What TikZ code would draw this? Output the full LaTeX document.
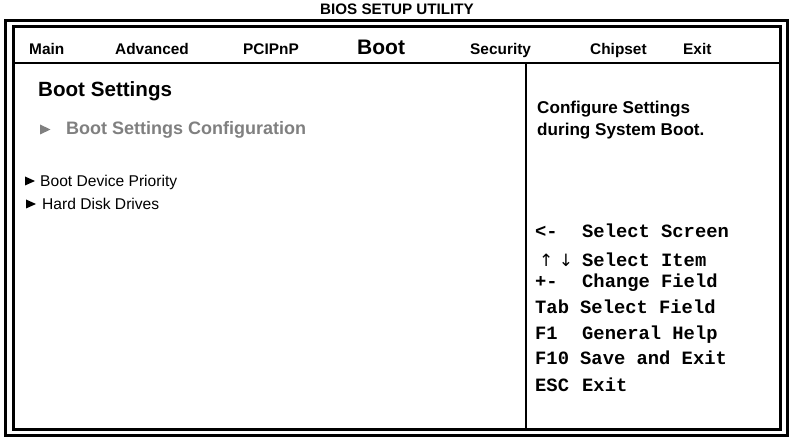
\documentclass[tikz,border=0pt]{standalone}
\usepackage{fontspec}
\setmainfont{Liberation Sans}
\setmonofont{Liberation Mono}
\newfontfamily\symfont{DejaVu Sans}
\definecolor{itemgray}{RGB}{128,128,128}
\begin{document}
\begin{tikzpicture}[x=1bp,y=-1bp,
  frame/.style={line width=3bp,draw=black},
  sepline/.style={line width=2.2bp,draw=black},
  tab/.style={anchor=base west,inner sep=0pt,font=\fontsize{15.4bp}{18bp}\selectfont\bfseries},
  seltab/.style={anchor=base west,inner sep=0pt,font=\fontsize{21bp}{24bp}\selectfont\bfseries},
  title/.style={anchor=base,inner sep=0pt,font=\fontsize{15.2bp}{17bp}\selectfont\bfseries},
  heading/.style={anchor=base west,inner sep=0pt,font=\fontsize{20.6bp}{24bp}\selectfont\bfseries},
  subitem/.style={anchor=base west,inner sep=0pt,text=itemgray,font=\fontsize{18bp}{21bp}\selectfont\bfseries},
  item/.style={anchor=base west,inner sep=0pt,font=\fontsize{15.6bp}{18bp}\selectfont},
  help/.style={anchor=base west,inner sep=0pt,font=\fontsize{17.1bp}{20bp}\selectfont\bfseries},
  key/.style={anchor=base west,inner sep=0pt,font=\fontsize{18.8bp}{22bp}\selectfont\ttfamily\bfseries},
  arrowsym/.style={anchor=base west,inner sep=0pt,font=\fontsize{17bp}{20bp}\selectfont\symfont}
]
\useasboundingbox (0,0) rectangle (790,437);
\fill[white] (0,0) rectangle (790,437);
% frames
\draw[frame] (5.5,20.5) rectangle (787.5,435.5);
\draw[frame] (13,26.5) rectangle (780.5,429.5);
\coordinate (tl) at (13,63);
\coordinate (tr) at (780.5,63);
\coordinate (dtop) at (526,63);
\coordinate (dbot) at (526,429.5);
\draw[sepline] (tl) -- (tr);
\draw[line width=2bp] (dtop) -- (dbot);
% title
\node[title] (ttl) at (397,15) {BIOS SETUP UTILITY};
% tabs
\node[tab] (tmain) at (29,55) {Main};
\node[tab] (tadv) at (115,55) {Advanced};
\node[tab] (tpci) at (243,55) {PCIPnP};
\node[seltab] (tboot) at (357,55) {Boot};
\node[tab] (tsec) at (470,55) {Security};
\node[tab] (tchip) at (590,55) {Chipset};
\node[tab] (texit) at (683,55) {Exit};
% left panel
\node[heading] (bs) at (38,97) {Boot Settings};
\fill[itemgray] (40,124.5) -- (50.5,129.5) -- (40,134.5) -- cycle;
\node[subitem] (bsc) at (66,135) {Boot Settings Configuration};
\fill[black] (25,176.5) -- (35,181) -- (25,185.5) -- cycle;
\node[item] (bdp) at (40,187) {Boot Device Priority};
\fill[black] (26,199.5) -- (36,204) -- (26,208.5) -- cycle;
\node[item] (hdd) at (42,210) {Hard Disk Drives};
% right panel
\node[help] (cfg1) at (537,114) {Configure Settings};
\node[help] (cfg2) at (537,136) {during System Boot.};
\node[key] (k1) at (535,238) {<-};
\node[key] (d1) at (582,238) {Select Screen};
\node[arrowsym] (k2) at (539,267) {↑ ↓};
\node[key] (d2) at (582,267) {Select Item};
\node[key] (k3) at (535,288) {+-};
\node[key] (d3) at (582,288) {Change Field};
\node[key] (k4) at (535,314) {Tab};
\node[key] (d4) at (580,314) {Select Field};
\node[key] (k5) at (535,340) {F1};
\node[key] (d5) at (582,340) {General Help};
\node[key] (k6) at (535,365) {F10};
\node[key] (d6) at (580,365) {Save and Exit};
\node[key] (k7) at (535,391) {ESC};
\node[key] (d7) at (582,391) {Exit};
\end{tikzpicture}
\end{document}
